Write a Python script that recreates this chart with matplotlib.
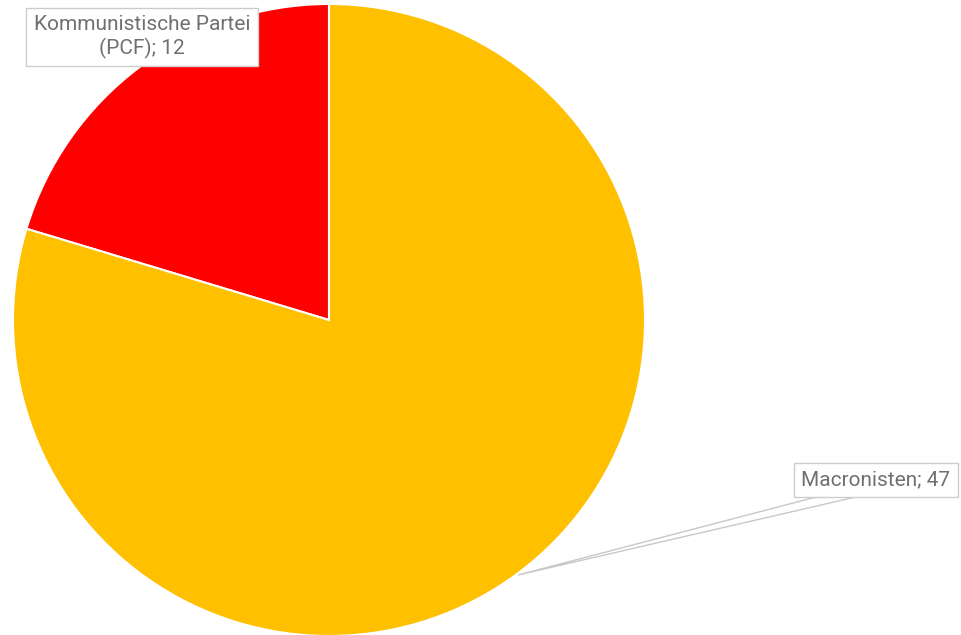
import matplotlib
matplotlib.use("Agg")
import matplotlib.pyplot as plt
from matplotlib.patches import Polygon

# data
labels = ['Kommunistische Partei\n(PCF); 12', 'Macronisten; 47']
values = [12, 47]
colors = ['#ff0000', '#ffc000']

W, H = 962, 635
fig = plt.figure(figsize=(W / 100, H / 100), dpi=100)
ax = fig.add_axes([0, 0, 1, 1])

cx, cy, r = 329, H - 320, 316
ax.pie(values, colors=colors, startangle=90, counterclock=True,
       center=(cx, cy), radius=r, frame=True,
       wedgeprops=dict(edgecolor='white', linewidth=1.5))
ax.set_xlim(0, W)
ax.set_ylim(0, H)
ax.set_aspect('equal')
ax.axis('off')

font = dict(family=['Roboto', 'DejaVu Sans'], size=15, color='#707070')
box = dict(boxstyle='square,pad=0.35', facecolor='white', edgecolor='#cccccc', linewidth=1)

# PCF label
ax.text(142, H - 37, labels[0], ha='center', va='center', linespacing=1.25,
        bbox=box, zorder=5, **font)

# Macronisten callout
tri = Polygon([(820, H - 496), (518, H - 575), (860, H - 496)], closed=True,
              facecolor='white', edgecolor='#c8c8c8', linewidth=1, zorder=4)
ax.add_patch(tri)
ax.text(876, H - 480, labels[1], ha='center', va='center',
        bbox=box, zorder=5, **font)

fig.savefig('out.png', dpi=100)
